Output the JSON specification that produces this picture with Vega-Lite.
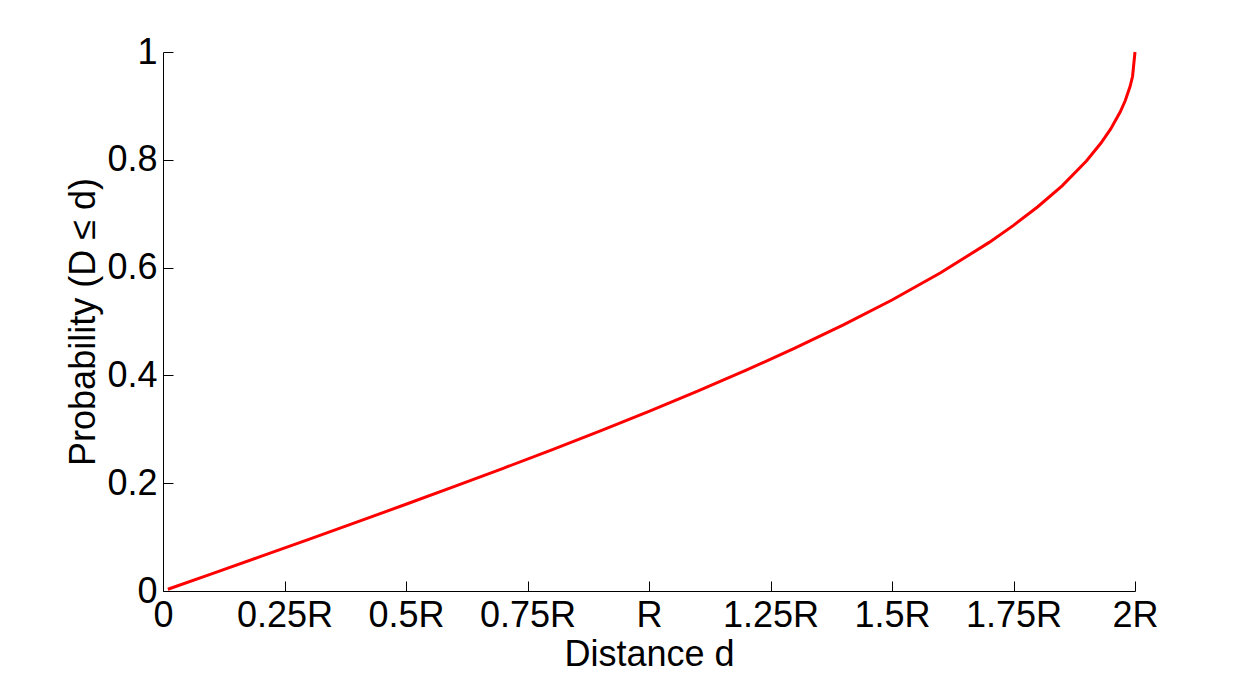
{
  "$schema": "https://vega.github.io/schema/vega-lite/v6.json",
  "autosize": "none",
  "width": 972,
  "height": 539,
  "padding": {"left": 163, "top": 52, "right": 119, "bottom": 91},
  "background": "white",
  "config": {
    "view": {"stroke": null},
    "font": "Liberation Sans",
    "axis": {
      "grid": false,
      "domainColor": "black",
      "domainWidth": 1,
      "tickColor": "black",
      "tickWidth": 1,
      "labelColor": "black",
      "titleColor": "black",
      "labelFont": "Liberation Sans",
      "titleFont": "Liberation Sans",
      "labelFontSize": 36,
      "titleFontSize": 36,
      "titleFontWeight": "normal"
    }
  },
  "data": {
    "values": [
      {"d": 0.01, "p": 0.0032},
      {"d": 0.1, "p": 0.0318},
      {"d": 0.2, "p": 0.0638},
      {"d": 0.3, "p": 0.0959},
      {"d": 0.4, "p": 0.1282},
      {"d": 0.5, "p": 0.1609},
      {"d": 0.6, "p": 0.194},
      {"d": 0.7, "p": 0.2276},
      {"d": 0.8, "p": 0.262},
      {"d": 0.9, "p": 0.2972},
      {"d": 1.0, "p": 0.3333},
      {"d": 1.1, "p": 0.3707},
      {"d": 1.2, "p": 0.4097},
      {"d": 1.3, "p": 0.4505},
      {"d": 1.4, "p": 0.4936},
      {"d": 1.5, "p": 0.5399},
      {"d": 1.6, "p": 0.5903},
      {"d": 1.7, "p": 0.6468},
      {"d": 1.75, "p": 0.6783},
      {"d": 1.8, "p": 0.7129},
      {"d": 1.85, "p": 0.7517},
      {"d": 1.9, "p": 0.7978},
      {"d": 1.93, "p": 0.8311},
      {"d": 1.95, "p": 0.8574},
      {"d": 1.97, "p": 0.8896},
      {"d": 1.98, "p": 0.9099},
      {"d": 1.99, "p": 0.9363},
      {"d": 1.995, "p": 0.955},
      {"d": 2.0, "p": 1.0}
    ]
  },
  "mark": {"type": "line", "color": "#ff0000", "strokeWidth": 3},
  "encoding": {
    "x": {
      "field": "d",
      "type": "quantitative",
      "scale": {"domain": [0, 2], "nice": false, "zero": false},
      "axis": {
        "title": "Distance d",
        "values": [0, 0.25, 0.5, 0.75, 1, 1.25, 1.5, 1.75, 2],
        "labelExpr": "datum.value == 0 ? '0' : (datum.value == 1 ? 'R' : datum.value + 'R')",
        "tickSize": -10,
        "labelPadding": 17,
        "titlePadding": 4,
        "labelFlush": false
      }
    },
    "y": {
      "field": "p",
      "type": "quantitative",
      "scale": {"domain": [0, 1], "nice": false},
      "axis": {
        "title": "Probability (D ≤ d)",
        "values": [0, 0.2, 0.4, 0.6, 0.8, 1],
        "format": "~g",
        "tickSize": -10,
        "labelPadding": 16,
        "titlePadding": 4,
        "labelFlush": false
      }
    }
  }
}
